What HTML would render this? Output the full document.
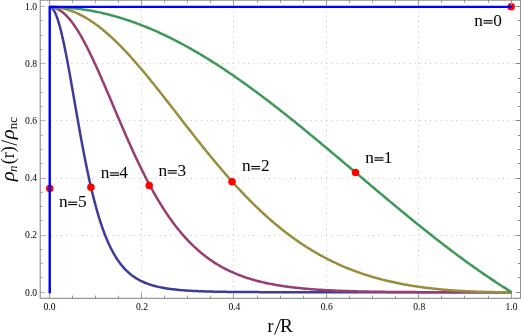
<!DOCTYPE html>
<html><head><meta charset="utf-8"><title>plot</title>
<style>
html,body{margin:0;padding:0;background:#fff;}
body{width:521px;height:336px;overflow:hidden;}
svg{display:block;font-family:"Liberation Serif",serif;will-change:transform;}
</style></head><body>
<svg width="521" height="336" viewBox="0 0 521 336">
<rect width="521" height="336" fill="#fff"/>
<g stroke="#c4c4c4" stroke-width="1" stroke-dasharray="1 4.2" fill="none"><line x1="141.5" y1="0.15" x2="141.5" y2="298.3"/><line x1="40.2" y1="235.5" x2="520.65" y2="235.5"/><line x1="233.5" y1="0.15" x2="233.5" y2="298.3"/><line x1="40.2" y1="178.5" x2="520.65" y2="178.5"/><line x1="326.5" y1="0.15" x2="326.5" y2="298.3"/><line x1="40.2" y1="120.5" x2="520.65" y2="120.5"/><line x1="418.5" y1="0.15" x2="418.5" y2="298.3"/><line x1="40.2" y1="63.5" x2="520.65" y2="63.5"/></g>
<path d="M49.70,7.00 L50.86,7.27 L52.01,8.06 L53.16,9.38 L54.32,11.22 L55.48,13.56 L56.63,16.38 L57.79,19.66 L58.94,23.38 L60.10,27.52 L61.25,32.05 L62.41,36.93 L63.56,42.13 L64.72,47.62 L65.87,53.38 L67.02,59.36 L68.18,65.53 L69.33,71.85 L70.49,78.31 L71.64,84.86 L72.80,91.47 L73.95,98.12 L75.11,104.78 L76.27,111.43 L77.42,118.03 L78.57,124.58 L79.73,131.04 L80.88,137.41 L82.04,143.67 L83.19,149.80 L84.35,155.80 L85.50,161.64 L86.66,167.34 L87.81,172.86 L88.97,178.22 L90.12,183.41 L91.28,188.42 L92.44,193.26 L93.59,197.92 L94.75,202.41 L95.90,206.72 L97.06,210.85 L98.21,214.82 L99.36,218.62 L100.52,222.25 L101.67,225.72 L102.83,229.04 L103.98,232.21 L105.14,235.23 L106.29,238.11 L107.45,240.85 L108.60,243.46 L109.76,245.94 L110.91,248.31 L112.07,250.55 L113.22,252.68 L114.38,254.71 L115.53,256.63 L116.69,258.46 L117.84,260.19 L119.00,261.83 L120.16,263.39 L121.31,264.87 L122.47,266.27 L123.62,267.60 L124.78,268.86 L125.93,270.05 L127.09,271.18 L128.24,272.26 L129.40,273.27 L130.55,274.23 L131.70,275.14 L132.86,276.01 L134.01,276.83 L135.17,277.60 L136.32,278.34 L137.48,279.03 L138.63,279.69 L139.79,280.32 L140.94,280.91 L142.10,281.47 L143.25,282.00 L144.41,282.51 L145.56,282.99 L146.72,283.44 L147.88,283.87 L149.03,284.28 L150.19,284.66 L151.34,285.03 L152.50,285.38 L153.65,285.71 L154.81,286.02 L155.96,286.32 L157.12,286.60 L158.27,286.87 L159.43,287.12 L160.58,287.37 L161.73,287.60 L162.89,287.81 L164.04,288.02 L165.20,288.22 L166.35,288.40 L167.51,288.58 L168.66,288.75 L169.82,288.91 L170.97,289.07 L172.13,289.21 L173.28,289.35 L174.44,289.48 L175.59,289.61 L176.75,289.73 L177.91,289.84 L179.06,289.95 L180.22,290.05 L181.37,290.15 L182.53,290.24 L183.68,290.33 L184.83,290.42 L185.99,290.50 L187.14,290.57 L188.30,290.65 L189.45,290.72 L190.61,290.78 L191.76,290.85 L192.92,290.91 L194.07,290.97 L195.23,291.02 L196.38,291.07 L197.54,291.12 L198.69,291.17 L199.85,291.22 L201.00,291.26 L202.16,291.30 L203.31,291.34 L204.47,291.38 L205.62,291.42 L206.78,291.45 L207.94,291.49 L209.09,291.52 L210.25,291.55 L211.40,291.58 L212.55,291.61 L213.71,291.63 L214.86,291.66 L216.02,291.68 L217.17,291.71 L218.33,291.73 L219.48,291.75 L220.64,291.77 L221.79,291.79 L222.95,291.81 L224.10,291.83 L225.26,291.84 L226.41,291.86 L227.57,291.88 L228.72,291.89 L229.88,291.91 L231.03,291.92 L232.19,291.93 L233.34,291.95 L234.50,291.96 L235.66,291.97 L236.81,291.98 L237.97,291.99 L239.12,292.00 L240.28,292.01 L241.43,292.02 L242.58,292.03 L243.74,292.04 L244.89,292.05 L246.05,292.06 L247.20,292.06 L248.36,292.07 L249.51,292.08 L250.67,292.08 L251.82,292.09 L252.98,292.10 L254.13,292.10 L255.29,292.11 L256.45,292.11 L257.60,292.12 L258.76,292.12 L259.91,292.13 L261.07,292.13 L262.22,292.14 L263.38,292.14 L264.53,292.15 L265.69,292.15 L266.84,292.16 L268.00,292.16 L269.15,292.16 L270.31,292.17 L271.46,292.17 L272.62,292.17 L273.77,292.18 L274.93,292.18 L276.08,292.18 L277.24,292.18 L278.39,292.19 L279.55,292.19 L280.70,292.19 L281.86,292.19 L283.01,292.20 L284.17,292.20 L285.32,292.20 L286.48,292.20 L287.63,292.20 L288.79,292.21 L289.94,292.21 L291.10,292.21 L292.25,292.21 L293.41,292.21 L294.56,292.21 L295.72,292.21 L296.87,292.22 L298.03,292.22 L299.18,292.22 L300.34,292.22 L301.49,292.22 L302.65,292.22 L303.80,292.22 L304.96,292.22 L306.11,292.23 L307.27,292.23 L308.42,292.23 L309.58,292.23 L310.73,292.23 L311.89,292.23 L313.04,292.23 L314.20,292.23 L315.35,292.23 L316.51,292.23 L317.66,292.23 L318.82,292.23 L319.97,292.24 L321.13,292.24 L322.28,292.24 L323.44,292.24 L324.59,292.24 L325.75,292.24 L326.90,292.24 L328.06,292.24 L329.21,292.24 L330.37,292.24 L331.52,292.24 L332.68,292.24 L333.83,292.24 L334.99,292.24 L336.14,292.24 L337.30,292.24 L338.45,292.24 L339.61,292.24 L340.76,292.24 L341.92,292.24 L343.07,292.24 L344.23,292.24 L345.38,292.24 L346.54,292.24 L347.69,292.24 L348.85,292.24 L350.00,292.25 L351.16,292.25 L352.31,292.25 L353.47,292.25 L354.62,292.25 L355.78,292.25 L356.93,292.25 L358.09,292.25 L359.24,292.25 L360.40,292.25 L361.55,292.25 L362.71,292.25 L363.86,292.25 L365.02,292.25 L366.17,292.25 L367.33,292.25 L368.48,292.25 L369.64,292.25 L370.79,292.25 L371.95,292.25 L373.10,292.25 L374.26,292.25 L375.41,292.25 L376.57,292.25 L377.72,292.25 L378.88,292.25 L380.03,292.25 L381.19,292.25 L382.34,292.25 L383.50,292.25 L384.65,292.25 L385.81,292.25 L386.96,292.25 L388.12,292.25 L389.27,292.25 L390.43,292.25 L391.58,292.25 L392.74,292.25 L393.89,292.25 L395.05,292.25 L396.20,292.25 L397.36,292.25 L398.51,292.25 L399.67,292.25 L400.82,292.25 L401.98,292.25 L403.13,292.25 L404.29,292.25 L405.44,292.25 L406.60,292.25 L407.75,292.25 L408.91,292.25 L410.06,292.25 L411.22,292.25 L412.37,292.25 L413.53,292.25 L414.68,292.25 L415.84,292.25 L416.99,292.25 L418.15,292.25 L419.30,292.25 L420.46,292.25 L421.61,292.25 L422.77,292.25 L423.92,292.25 L425.08,292.25 L426.23,292.25 L427.39,292.25 L428.54,292.25 L429.70,292.25 L430.85,292.25 L432.01,292.25 L433.16,292.25 L434.32,292.25 L435.47,292.25 L436.63,292.25 L437.78,292.25 L438.94,292.25 L440.09,292.25 L441.25,292.25 L442.40,292.25 L443.56,292.25 L444.71,292.25 L445.87,292.25 L447.02,292.25 L448.18,292.25 L449.33,292.25 L450.49,292.25 L451.64,292.25 L452.80,292.25 L453.95,292.25 L455.11,292.25 L456.26,292.25 L457.42,292.25 L458.57,292.25 L459.73,292.25 L460.88,292.25 L462.04,292.25 L463.19,292.25 L464.35,292.25 L465.50,292.25 L466.66,292.25 L467.81,292.25 L468.97,292.25 L470.12,292.25 L471.28,292.25 L472.43,292.25 L473.59,292.25 L474.74,292.25 L475.90,292.25 L477.05,292.25 L478.21,292.25 L479.36,292.25 L480.52,292.25 L481.67,292.25 L482.83,292.25 L483.98,292.25 L485.14,292.25 L486.29,292.25 L487.45,292.25 L488.60,292.25 L489.76,292.25 L490.91,292.25 L492.07,292.25 L493.22,292.25 L494.38,292.25 L495.53,292.25 L496.69,292.25 L497.84,292.25 L499.00,292.25 L500.15,292.25 L501.31,292.25 L502.46,292.25 L503.62,292.25 L504.77,292.25 L505.93,292.25 L507.08,292.25 L508.24,292.25 L509.39,292.25 L510.55,292.25 L511.70,292.25" fill="none" stroke="#3d3d99" stroke-width="2.5" stroke-linejoin="round"/><path d="M49.70,7.00 L50.86,7.04 L52.01,7.17 L53.16,7.38 L54.32,7.68 L55.48,8.06 L56.63,8.52 L57.79,9.07 L58.94,9.70 L60.10,10.41 L61.25,11.20 L62.41,12.07 L63.56,13.02 L64.72,14.05 L65.87,15.16 L67.02,16.34 L68.18,17.60 L69.33,18.93 L70.49,20.33 L71.64,21.80 L72.80,23.34 L73.95,24.95 L75.11,26.62 L76.27,28.36 L77.42,30.16 L78.57,32.01 L79.73,33.93 L80.88,35.90 L82.04,37.93 L83.19,40.01 L84.35,42.14 L85.50,44.32 L86.66,46.54 L87.81,48.81 L88.97,51.12 L90.12,53.47 L91.28,55.86 L92.44,58.29 L93.59,60.74 L94.75,63.23 L95.90,65.75 L97.06,68.30 L98.21,70.88 L99.36,73.47 L100.52,76.09 L101.67,78.73 L102.83,81.38 L103.98,84.05 L105.14,86.74 L106.29,89.44 L107.45,92.14 L108.60,94.85 L109.76,97.58 L110.91,100.30 L112.07,103.03 L113.22,105.76 L114.38,108.48 L115.53,111.21 L116.69,113.93 L117.84,116.65 L119.00,119.36 L120.16,122.06 L121.31,124.75 L122.47,127.44 L123.62,130.11 L124.78,132.76 L125.93,135.41 L127.09,138.03 L128.24,140.65 L129.40,143.24 L130.55,145.81 L131.70,148.37 L132.86,150.90 L134.01,153.42 L135.17,155.91 L136.32,158.38 L137.48,160.82 L138.63,163.24 L139.79,165.64 L140.94,168.01 L142.10,170.36 L143.25,172.67 L144.41,174.97 L145.56,177.23 L146.72,179.47 L147.88,181.68 L149.03,183.86 L150.19,186.01 L151.34,188.13 L152.50,190.23 L153.65,192.29 L154.81,194.33 L155.96,196.34 L157.12,198.31 L158.27,200.26 L159.43,202.18 L160.58,204.07 L161.73,205.93 L162.89,207.75 L164.04,209.55 L165.20,211.32 L166.35,213.07 L167.51,214.78 L168.66,216.46 L169.82,218.11 L170.97,219.74 L172.13,221.33 L173.28,222.90 L174.44,224.44 L175.59,225.95 L176.75,227.44 L177.91,228.90 L179.06,230.32 L180.22,231.73 L181.37,233.10 L182.53,234.45 L183.68,235.78 L184.83,237.07 L185.99,238.35 L187.14,239.59 L188.30,240.82 L189.45,242.01 L190.61,243.19 L191.76,244.34 L192.92,245.46 L194.07,246.57 L195.23,247.65 L196.38,248.70 L197.54,249.74 L198.69,250.75 L199.85,251.75 L201.00,252.72 L202.16,253.67 L203.31,254.60 L204.47,255.51 L205.62,256.40 L206.78,257.27 L207.94,258.12 L209.09,258.95 L210.25,259.77 L211.40,260.56 L212.55,261.34 L213.71,262.10 L214.86,262.85 L216.02,263.57 L217.17,264.28 L218.33,264.98 L219.48,265.66 L220.64,266.32 L221.79,266.97 L222.95,267.60 L224.10,268.22 L225.26,268.82 L226.41,269.41 L227.57,269.99 L228.72,270.55 L229.88,271.10 L231.03,271.64 L232.19,272.16 L233.34,272.68 L234.50,273.17 L235.66,273.66 L236.81,274.14 L237.97,274.60 L239.12,275.06 L240.28,275.50 L241.43,275.93 L242.58,276.35 L243.74,276.76 L244.89,277.16 L246.05,277.56 L247.20,277.94 L248.36,278.31 L249.51,278.67 L250.67,279.03 L251.82,279.38 L252.98,279.71 L254.13,280.04 L255.29,280.36 L256.45,280.68 L257.60,280.98 L258.76,281.28 L259.91,281.57 L261.07,281.85 L262.22,282.13 L263.38,282.40 L264.53,282.66 L265.69,282.92 L266.84,283.17 L268.00,283.41 L269.15,283.65 L270.31,283.88 L271.46,284.10 L272.62,284.32 L273.77,284.54 L274.93,284.75 L276.08,284.95 L277.24,285.15 L278.39,285.34 L279.55,285.53 L280.70,285.71 L281.86,285.89 L283.01,286.07 L284.17,286.24 L285.32,286.40 L286.48,286.56 L287.63,286.72 L288.79,286.87 L289.94,287.02 L291.10,287.17 L292.25,287.31 L293.41,287.45 L294.56,287.58 L295.72,287.71 L296.87,287.84 L298.03,287.96 L299.18,288.08 L300.34,288.20 L301.49,288.32 L302.65,288.43 L303.80,288.54 L304.96,288.64 L306.11,288.74 L307.27,288.85 L308.42,288.94 L309.58,289.04 L310.73,289.13 L311.89,289.22 L313.04,289.31 L314.20,289.39 L315.35,289.48 L316.51,289.56 L317.66,289.64 L318.82,289.71 L319.97,289.79 L321.13,289.86 L322.28,289.93 L323.44,290.00 L324.59,290.07 L325.75,290.13 L326.90,290.19 L328.06,290.26 L329.21,290.32 L330.37,290.37 L331.52,290.43 L332.68,290.49 L333.83,290.54 L334.99,290.59 L336.14,290.64 L337.30,290.69 L338.45,290.74 L339.61,290.79 L340.76,290.83 L341.92,290.88 L343.07,290.92 L344.23,290.96 L345.38,291.00 L346.54,291.04 L347.69,291.08 L348.85,291.12 L350.00,291.15 L351.16,291.19 L352.31,291.22 L353.47,291.25 L354.62,291.29 L355.78,291.32 L356.93,291.35 L358.09,291.38 L359.24,291.41 L360.40,291.43 L361.55,291.46 L362.71,291.49 L363.86,291.51 L365.02,291.54 L366.17,291.56 L367.33,291.58 L368.48,291.61 L369.64,291.63 L370.79,291.65 L371.95,291.67 L373.10,291.69 L374.26,291.71 L375.41,291.73 L376.57,291.75 L377.72,291.77 L378.88,291.78 L380.03,291.80 L381.19,291.82 L382.34,291.83 L383.50,291.85 L384.65,291.86 L385.81,291.88 L386.96,291.89 L388.12,291.90 L389.27,291.92 L390.43,291.93 L391.58,291.94 L392.74,291.95 L393.89,291.96 L395.05,291.98 L396.20,291.99 L397.36,292.00 L398.51,292.01 L399.67,292.02 L400.82,292.03 L401.98,292.03 L403.13,292.04 L404.29,292.05 L405.44,292.06 L406.60,292.07 L407.75,292.08 L408.91,292.08 L410.06,292.09 L411.22,292.10 L412.37,292.10 L413.53,292.11 L414.68,292.12 L415.84,292.12 L416.99,292.13 L418.15,292.13 L419.30,292.14 L420.46,292.14 L421.61,292.15 L422.77,292.15 L423.92,292.16 L425.08,292.16 L426.23,292.17 L427.39,292.17 L428.54,292.17 L429.70,292.18 L430.85,292.18 L432.01,292.19 L433.16,292.19 L434.32,292.19 L435.47,292.19 L436.63,292.20 L437.78,292.20 L438.94,292.20 L440.09,292.21 L441.25,292.21 L442.40,292.21 L443.56,292.21 L444.71,292.22 L445.87,292.22 L447.02,292.22 L448.18,292.22 L449.33,292.22 L450.49,292.22 L451.64,292.23 L452.80,292.23 L453.95,292.23 L455.11,292.23 L456.26,292.23 L457.42,292.23 L458.57,292.23 L459.73,292.24 L460.88,292.24 L462.04,292.24 L463.19,292.24 L464.35,292.24 L465.50,292.24 L466.66,292.24 L467.81,292.24 L468.97,292.24 L470.12,292.24 L471.28,292.24 L472.43,292.24 L473.59,292.24 L474.74,292.25 L475.90,292.25 L477.05,292.25 L478.21,292.25 L479.36,292.25 L480.52,292.25 L481.67,292.25 L482.83,292.25 L483.98,292.25 L485.14,292.25 L486.29,292.25 L487.45,292.25 L488.60,292.25 L489.76,292.25 L490.91,292.25 L492.07,292.25 L493.22,292.25 L494.38,292.25 L495.53,292.25 L496.69,292.25 L497.84,292.25 L499.00,292.25 L500.15,292.25 L501.31,292.25 L502.46,292.25 L503.62,292.25 L504.77,292.25 L505.93,292.25 L507.08,292.25 L508.24,292.25 L509.39,292.25 L510.55,292.25 L511.70,292.25" fill="none" stroke="#993d70" stroke-width="2.5" stroke-linejoin="round"/><path d="M49.70,7.00 L50.86,7.01 L52.01,7.05 L53.16,7.10 L54.32,7.18 L55.48,7.28 L56.63,7.41 L57.79,7.55 L58.94,7.72 L60.10,7.91 L61.25,8.12 L62.41,8.36 L63.56,8.62 L64.72,8.90 L65.87,9.20 L67.02,9.52 L68.18,9.87 L69.33,10.23 L70.49,10.62 L71.64,11.03 L72.80,11.47 L73.95,11.92 L75.11,12.39 L76.27,12.89 L77.42,13.41 L78.57,13.94 L79.73,14.50 L80.88,15.08 L82.04,15.68 L83.19,16.30 L84.35,16.94 L85.50,17.60 L86.66,18.28 L87.81,18.98 L88.97,19.70 L90.12,20.43 L91.28,21.19 L92.44,21.97 L93.59,22.76 L94.75,23.57 L95.90,24.41 L97.06,25.26 L98.21,26.12 L99.36,27.01 L100.52,27.91 L101.67,28.83 L102.83,29.77 L103.98,30.72 L105.14,31.69 L106.29,32.68 L107.45,33.68 L108.60,34.70 L109.76,35.74 L110.91,36.79 L112.07,37.85 L113.22,38.93 L114.38,40.03 L115.53,41.13 L116.69,42.26 L117.84,43.39 L119.00,44.55 L120.16,45.71 L121.31,46.89 L122.47,48.08 L123.62,49.28 L124.78,50.50 L125.93,51.72 L127.09,52.96 L128.24,54.21 L129.40,55.47 L130.55,56.75 L131.70,58.03 L132.86,59.32 L134.01,60.63 L135.17,61.94 L136.32,63.26 L137.48,64.60 L138.63,65.94 L139.79,67.29 L140.94,68.65 L142.10,70.01 L143.25,71.39 L144.41,72.77 L145.56,74.16 L146.72,75.56 L147.88,76.96 L149.03,78.38 L150.19,79.79 L151.34,81.22 L152.50,82.64 L153.65,84.08 L154.81,85.52 L155.96,86.96 L157.12,88.41 L158.27,89.87 L159.43,91.32 L160.58,92.79 L161.73,94.25 L162.89,95.72 L164.04,97.19 L165.20,98.67 L166.35,100.14 L167.51,101.62 L168.66,103.11 L169.82,104.59 L170.97,106.08 L172.13,107.56 L173.28,109.05 L174.44,110.54 L175.59,112.03 L176.75,113.52 L177.91,115.01 L179.06,116.50 L180.22,117.99 L181.37,119.48 L182.53,120.97 L183.68,122.45 L184.83,123.94 L185.99,125.43 L187.14,126.91 L188.30,128.39 L189.45,129.87 L190.61,131.35 L191.76,132.83 L192.92,134.30 L194.07,135.77 L195.23,137.24 L196.38,138.70 L197.54,140.16 L198.69,141.62 L199.85,143.07 L201.00,144.52 L202.16,145.97 L203.31,147.41 L204.47,148.85 L205.62,150.28 L206.78,151.71 L207.94,153.13 L209.09,154.55 L210.25,155.96 L211.40,157.37 L212.55,158.77 L213.71,160.17 L214.86,161.56 L216.02,162.94 L217.17,164.32 L218.33,165.70 L219.48,167.06 L220.64,168.42 L221.79,169.78 L222.95,171.13 L224.10,172.47 L225.26,173.80 L226.41,175.13 L227.57,176.45 L228.72,177.76 L229.88,179.07 L231.03,180.37 L232.19,181.66 L233.34,182.94 L234.50,184.22 L235.66,185.49 L236.81,186.75 L237.97,188.00 L239.12,189.25 L240.28,190.48 L241.43,191.71 L242.58,192.93 L243.74,194.15 L244.89,195.35 L246.05,196.55 L247.20,197.73 L248.36,198.91 L249.51,200.09 L250.67,201.25 L251.82,202.40 L252.98,203.55 L254.13,204.69 L255.29,205.81 L256.45,206.93 L257.60,208.04 L258.76,209.15 L259.91,210.24 L261.07,211.33 L262.22,212.40 L263.38,213.47 L264.53,214.53 L265.69,215.58 L266.84,216.62 L268.00,217.65 L269.15,218.67 L270.31,219.69 L271.46,220.69 L272.62,221.69 L273.77,222.67 L274.93,223.65 L276.08,224.62 L277.24,225.58 L278.39,226.53 L279.55,227.48 L280.70,228.41 L281.86,229.33 L283.01,230.25 L284.17,231.16 L285.32,232.05 L286.48,232.94 L287.63,233.82 L288.79,234.70 L289.94,235.56 L291.10,236.41 L292.25,237.26 L293.41,238.09 L294.56,238.92 L295.72,239.74 L296.87,240.55 L298.03,241.35 L299.18,242.15 L300.34,242.93 L301.49,243.71 L302.65,244.48 L303.80,245.23 L304.96,245.99 L306.11,246.73 L307.27,247.46 L308.42,248.19 L309.58,248.91 L310.73,249.62 L311.89,250.32 L313.04,251.01 L314.20,251.70 L315.35,252.37 L316.51,253.04 L317.66,253.70 L318.82,254.36 L319.97,255.00 L321.13,255.64 L322.28,256.27 L323.44,256.89 L324.59,257.50 L325.75,258.11 L326.90,258.71 L328.06,259.30 L329.21,259.89 L330.37,260.46 L331.52,261.03 L332.68,261.59 L333.83,262.15 L334.99,262.70 L336.14,263.24 L337.30,263.77 L338.45,264.30 L339.61,264.82 L340.76,265.33 L341.92,265.83 L343.07,266.33 L344.23,266.82 L345.38,267.31 L346.54,267.79 L347.69,268.26 L348.85,268.72 L350.00,269.18 L351.16,269.64 L352.31,270.08 L353.47,270.52 L354.62,270.95 L355.78,271.38 L356.93,271.80 L358.09,272.22 L359.24,272.63 L360.40,273.03 L361.55,273.43 L362.71,273.82 L363.86,274.20 L365.02,274.58 L366.17,274.95 L367.33,275.32 L368.48,275.68 L369.64,276.04 L370.79,276.39 L371.95,276.74 L373.10,277.08 L374.26,277.41 L375.41,277.74 L376.57,278.07 L377.72,278.39 L378.88,278.70 L380.03,279.01 L381.19,279.31 L382.34,279.61 L383.50,279.91 L384.65,280.20 L385.81,280.48 L386.96,280.76 L388.12,281.04 L389.27,281.31 L390.43,281.57 L391.58,281.83 L392.74,282.09 L393.89,282.34 L395.05,282.59 L396.20,282.83 L397.36,283.07 L398.51,283.31 L399.67,283.54 L400.82,283.77 L401.98,283.99 L403.13,284.21 L404.29,284.42 L405.44,284.63 L406.60,284.84 L407.75,285.04 L408.91,285.24 L410.06,285.44 L411.22,285.63 L412.37,285.82 L413.53,286.00 L414.68,286.18 L415.84,286.36 L416.99,286.53 L418.15,286.70 L419.30,286.87 L420.46,287.03 L421.61,287.19 L422.77,287.35 L423.92,287.50 L425.08,287.65 L426.23,287.80 L427.39,287.94 L428.54,288.08 L429.70,288.22 L430.85,288.35 L432.01,288.48 L433.16,288.61 L434.32,288.74 L435.47,288.86 L436.63,288.98 L437.78,289.10 L438.94,289.21 L440.09,289.33 L441.25,289.44 L442.40,289.54 L443.56,289.65 L444.71,289.75 L445.87,289.85 L447.02,289.94 L448.18,290.04 L449.33,290.13 L450.49,290.22 L451.64,290.30 L452.80,290.39 L453.95,290.47 L455.11,290.55 L456.26,290.63 L457.42,290.70 L458.57,290.78 L459.73,290.85 L460.88,290.92 L462.04,290.98 L463.19,291.05 L464.35,291.11 L465.50,291.17 L466.66,291.23 L467.81,291.29 L468.97,291.34 L470.12,291.40 L471.28,291.45 L472.43,291.50 L473.59,291.54 L474.74,291.59 L475.90,291.63 L477.05,291.68 L478.21,291.72 L479.36,291.75 L480.52,291.79 L481.67,291.83 L482.83,291.86 L483.98,291.89 L485.14,291.92 L486.29,291.95 L487.45,291.98 L488.60,292.01 L489.76,292.03 L490.91,292.06 L492.07,292.08 L493.22,292.10 L494.38,292.12 L495.53,292.13 L496.69,292.15 L497.84,292.17 L499.00,292.18 L500.15,292.19 L501.31,292.20 L502.46,292.21 L503.62,292.22 L504.77,292.23 L505.93,292.24 L507.08,292.24 L508.24,292.25 L509.39,292.25 L510.55,292.25 L511.70,292.25" fill="none" stroke="#998c3d" stroke-width="2.5" stroke-linejoin="round"/><path d="M49.70,7.00 L50.86,7.00 L52.01,7.01 L53.16,7.03 L54.32,7.05 L55.48,7.07 L56.63,7.11 L57.79,7.14 L58.94,7.19 L60.10,7.24 L61.25,7.29 L62.41,7.35 L63.56,7.42 L64.72,7.50 L65.87,7.57 L67.02,7.66 L68.18,7.75 L69.33,7.85 L70.49,7.95 L71.64,8.06 L72.80,8.17 L73.95,8.29 L75.11,8.42 L76.27,8.55 L77.42,8.69 L78.57,8.83 L79.73,8.98 L80.88,9.13 L82.04,9.29 L83.19,9.46 L84.35,9.63 L85.50,9.81 L86.66,9.99 L87.81,10.18 L88.97,10.38 L90.12,10.58 L91.28,10.79 L92.44,11.00 L93.59,11.22 L94.75,11.44 L95.90,11.67 L97.06,11.90 L98.21,12.15 L99.36,12.39 L100.52,12.64 L101.67,12.90 L102.83,13.17 L103.98,13.43 L105.14,13.71 L106.29,13.99 L107.45,14.28 L108.60,14.57 L109.76,14.86 L110.91,15.17 L112.07,15.47 L113.22,15.79 L114.38,16.11 L115.53,16.43 L116.69,16.76 L117.84,17.10 L119.00,17.44 L120.16,17.79 L121.31,18.14 L122.47,18.50 L123.62,18.86 L124.78,19.23 L125.93,19.60 L127.09,19.98 L128.24,20.37 L129.40,20.76 L130.55,21.15 L131.70,21.56 L132.86,21.96 L134.01,22.37 L135.17,22.79 L136.32,23.21 L137.48,23.64 L138.63,24.07 L139.79,24.51 L140.94,24.95 L142.10,25.40 L143.25,25.86 L144.41,26.31 L145.56,26.78 L146.72,27.25 L147.88,27.72 L149.03,28.20 L150.19,28.68 L151.34,29.17 L152.50,29.67 L153.65,30.17 L154.81,30.67 L155.96,31.18 L157.12,31.70 L158.27,32.22 L159.43,32.74 L160.58,33.27 L161.73,33.80 L162.89,34.34 L164.04,34.89 L165.20,35.43 L166.35,35.99 L167.51,36.55 L168.66,37.11 L169.82,37.68 L170.97,38.25 L172.13,38.83 L173.28,39.41 L174.44,40.00 L175.59,40.59 L176.75,41.18 L177.91,41.78 L179.06,42.39 L180.22,43.00 L181.37,43.61 L182.53,44.23 L183.68,44.86 L184.83,45.48 L185.99,46.12 L187.14,46.75 L188.30,47.39 L189.45,48.04 L190.61,48.69 L191.76,49.34 L192.92,50.00 L194.07,50.66 L195.23,51.33 L196.38,52.00 L197.54,52.68 L198.69,53.36 L199.85,54.04 L201.00,54.73 L202.16,55.42 L203.31,56.12 L204.47,56.82 L205.62,57.52 L206.78,58.23 L207.94,58.94 L209.09,59.66 L210.25,60.38 L211.40,61.10 L212.55,61.83 L213.71,62.56 L214.86,63.30 L216.02,64.04 L217.17,64.78 L218.33,65.53 L219.48,66.28 L220.64,67.03 L221.79,67.79 L222.95,68.55 L224.10,69.32 L225.26,70.09 L226.41,70.86 L227.57,71.64 L228.72,72.42 L229.88,73.20 L231.03,73.99 L232.19,74.78 L233.34,75.57 L234.50,76.37 L235.66,77.17 L236.81,77.97 L237.97,78.78 L239.12,79.59 L240.28,80.40 L241.43,81.21 L242.58,82.03 L243.74,82.86 L244.89,83.68 L246.05,84.51 L247.20,85.34 L248.36,86.18 L249.51,87.02 L250.67,87.86 L251.82,88.70 L252.98,89.55 L254.13,90.40 L255.29,91.25 L256.45,92.10 L257.60,92.96 L258.76,93.82 L259.91,94.69 L261.07,95.55 L262.22,96.42 L263.38,97.29 L264.53,98.16 L265.69,99.04 L266.84,99.92 L268.00,100.80 L269.15,101.69 L270.31,102.57 L271.46,103.46 L272.62,104.35 L273.77,105.25 L274.93,106.14 L276.08,107.04 L277.24,107.94 L278.39,108.84 L279.55,109.75 L280.70,110.65 L281.86,111.56 L283.01,112.47 L284.17,113.39 L285.32,114.30 L286.48,115.22 L287.63,116.14 L288.79,117.06 L289.94,117.98 L291.10,118.91 L292.25,119.83 L293.41,120.76 L294.56,121.69 L295.72,122.63 L296.87,123.56 L298.03,124.49 L299.18,125.43 L300.34,126.37 L301.49,127.31 L302.65,128.25 L303.80,129.20 L304.96,130.14 L306.11,131.09 L307.27,132.03 L308.42,132.98 L309.58,133.93 L310.73,134.88 L311.89,135.84 L313.04,136.79 L314.20,137.75 L315.35,138.70 L316.51,139.66 L317.66,140.62 L318.82,141.58 L319.97,142.54 L321.13,143.50 L322.28,144.47 L323.44,145.43 L324.59,146.39 L325.75,147.36 L326.90,148.33 L328.06,149.29 L329.21,150.26 L330.37,151.23 L331.52,152.20 L332.68,153.17 L333.83,154.14 L334.99,155.11 L336.14,156.09 L337.30,157.06 L338.45,158.03 L339.61,159.01 L340.76,159.98 L341.92,160.95 L343.07,161.93 L344.23,162.90 L345.38,163.88 L346.54,164.86 L347.69,165.83 L348.85,166.81 L350.00,167.79 L351.16,168.76 L352.31,169.74 L353.47,170.72 L354.62,171.69 L355.78,172.67 L356.93,173.65 L358.09,174.63 L359.24,175.60 L360.40,176.58 L361.55,177.56 L362.71,178.53 L363.86,179.51 L365.02,180.49 L366.17,181.46 L367.33,182.44 L368.48,183.41 L369.64,184.39 L370.79,185.36 L371.95,186.34 L373.10,187.31 L374.26,188.28 L375.41,189.26 L376.57,190.23 L377.72,191.20 L378.88,192.17 L380.03,193.14 L381.19,194.11 L382.34,195.08 L383.50,196.05 L384.65,197.02 L385.81,197.98 L386.96,198.95 L388.12,199.92 L389.27,200.88 L390.43,201.84 L391.58,202.81 L392.74,203.77 L393.89,204.73 L395.05,205.69 L396.20,206.64 L397.36,207.60 L398.51,208.56 L399.67,209.51 L400.82,210.47 L401.98,211.42 L403.13,212.37 L404.29,213.32 L405.44,214.27 L406.60,215.22 L407.75,216.16 L408.91,217.11 L410.06,218.05 L411.22,218.99 L412.37,219.93 L413.53,220.87 L414.68,221.81 L415.84,222.74 L416.99,223.68 L418.15,224.61 L419.30,225.54 L420.46,226.47 L421.61,227.39 L422.77,228.32 L423.92,229.24 L425.08,230.16 L426.23,231.08 L427.39,232.00 L428.54,232.92 L429.70,233.83 L430.85,234.74 L432.01,235.66 L433.16,236.56 L434.32,237.47 L435.47,238.37 L436.63,239.28 L437.78,240.18 L438.94,241.07 L440.09,241.97 L441.25,242.86 L442.40,243.75 L443.56,244.64 L444.71,245.53 L445.87,246.41 L447.02,247.30 L448.18,248.18 L449.33,249.05 L450.49,249.93 L451.64,250.80 L452.80,251.67 L453.95,252.54 L455.11,253.40 L456.26,254.27 L457.42,255.13 L458.57,255.98 L459.73,256.84 L460.88,257.69 L462.04,258.54 L463.19,259.39 L464.35,260.23 L465.50,261.07 L466.66,261.91 L467.81,262.75 L468.97,263.58 L470.12,264.41 L471.28,265.24 L472.43,266.07 L473.59,266.89 L474.74,267.71 L475.90,268.52 L477.05,269.34 L478.21,270.15 L479.36,270.95 L480.52,271.76 L481.67,272.56 L482.83,273.36 L483.98,274.15 L485.14,274.94 L486.29,275.73 L487.45,276.52 L488.60,277.30 L489.76,278.08 L490.91,278.85 L492.07,279.63 L493.22,280.40 L494.38,281.16 L495.53,281.92 L496.69,282.68 L497.84,283.44 L499.00,284.19 L500.15,284.94 L501.31,285.69 L502.46,286.43 L503.62,287.17 L504.77,287.91 L505.93,288.64 L507.08,289.37 L508.24,290.09 L509.39,290.82 L510.55,291.54 L511.70,292.25" fill="none" stroke="#3d9957" stroke-width="2.5" stroke-linejoin="round"/>
<g fill="#ff0000"><circle cx="511.2" cy="6.7" r="3.75"/><circle cx="355.5" cy="172.4" r="3.75"/><circle cx="232.05" cy="181.65" r="3.75"/><circle cx="149.2" cy="185.5" r="3.75"/><circle cx="90.9" cy="187.3" r="3.75"/><circle cx="49.8" cy="188.6" r="3.75"/></g>
<g stroke="#0000ff" stroke-width="2.4" fill="none">
<path d="M49.72,293.5 L49.72,6.9 L512.2,6.9" stroke-linejoin="miter"/>
</g>
<g stroke-width="1" fill="none"><g stroke="#9a9a9a"><line x1="49.5" y1="298.3" x2="49.5" y2="293.5"/><line x1="49.5" y1="0.15" x2="49.5" y2="4.95"/><line x1="72.5" y1="298.3" x2="72.5" y2="295.6"/><line x1="72.5" y1="0.15" x2="72.5" y2="2.85"/><line x1="95.5" y1="298.3" x2="95.5" y2="295.6"/><line x1="95.5" y1="0.15" x2="95.5" y2="2.85"/><line x1="118.5" y1="298.3" x2="118.5" y2="295.6"/><line x1="118.5" y1="0.15" x2="118.5" y2="2.85"/><line x1="141.5" y1="298.3" x2="141.5" y2="293.5"/><line x1="141.5" y1="0.15" x2="141.5" y2="4.95"/><line x1="164.5" y1="298.3" x2="164.5" y2="295.6"/><line x1="164.5" y1="0.15" x2="164.5" y2="2.85"/><line x1="187.5" y1="298.3" x2="187.5" y2="295.6"/><line x1="187.5" y1="0.15" x2="187.5" y2="2.85"/><line x1="210.5" y1="298.3" x2="210.5" y2="295.6"/><line x1="210.5" y1="0.15" x2="210.5" y2="2.85"/><line x1="233.5" y1="298.3" x2="233.5" y2="293.5"/><line x1="233.5" y1="0.15" x2="233.5" y2="4.95"/><line x1="257.5" y1="298.3" x2="257.5" y2="295.6"/><line x1="257.5" y1="0.15" x2="257.5" y2="2.85"/><line x1="280.5" y1="298.3" x2="280.5" y2="295.6"/><line x1="280.5" y1="0.15" x2="280.5" y2="2.85"/><line x1="303.5" y1="298.3" x2="303.5" y2="295.6"/><line x1="303.5" y1="0.15" x2="303.5" y2="2.85"/><line x1="326.5" y1="298.3" x2="326.5" y2="293.5"/><line x1="326.5" y1="0.15" x2="326.5" y2="4.95"/><line x1="349.5" y1="298.3" x2="349.5" y2="295.6"/><line x1="349.5" y1="0.15" x2="349.5" y2="2.85"/><line x1="372.5" y1="298.3" x2="372.5" y2="295.6"/><line x1="372.5" y1="0.15" x2="372.5" y2="2.85"/><line x1="395.5" y1="298.3" x2="395.5" y2="295.6"/><line x1="395.5" y1="0.15" x2="395.5" y2="2.85"/><line x1="418.5" y1="298.3" x2="418.5" y2="293.5"/><line x1="418.5" y1="0.15" x2="418.5" y2="4.95"/><line x1="441.5" y1="298.3" x2="441.5" y2="295.6"/><line x1="441.5" y1="0.15" x2="441.5" y2="2.85"/><line x1="464.5" y1="298.3" x2="464.5" y2="295.6"/><line x1="464.5" y1="0.15" x2="464.5" y2="2.85"/><line x1="488.5" y1="298.3" x2="488.5" y2="295.6"/><line x1="488.5" y1="0.15" x2="488.5" y2="2.85"/><line x1="511.5" y1="298.3" x2="511.5" y2="293.5"/><line x1="511.5" y1="0.15" x2="511.5" y2="4.95"/></g><g stroke="#b5b5b5"><line x1="40.2" y1="292.5" x2="45.0" y2="292.5"/><line x1="40.2" y1="277.5" x2="42.900000000000006" y2="277.5"/><line x1="40.2" y1="263.5" x2="42.900000000000006" y2="263.5"/><line x1="40.2" y1="249.5" x2="42.900000000000006" y2="249.5"/><line x1="40.2" y1="235.5" x2="45.0" y2="235.5"/><line x1="40.2" y1="220.5" x2="42.900000000000006" y2="220.5"/><line x1="40.2" y1="206.5" x2="42.900000000000006" y2="206.5"/><line x1="40.2" y1="192.5" x2="42.900000000000006" y2="192.5"/><line x1="40.2" y1="178.5" x2="45.0" y2="178.5"/><line x1="40.2" y1="163.5" x2="42.900000000000006" y2="163.5"/><line x1="40.2" y1="149.5" x2="42.900000000000006" y2="149.5"/><line x1="40.2" y1="135.5" x2="42.900000000000006" y2="135.5"/><line x1="40.2" y1="120.5" x2="45.0" y2="120.5"/><line x1="40.2" y1="106.5" x2="42.900000000000006" y2="106.5"/><line x1="40.2" y1="92.5" x2="42.900000000000006" y2="92.5"/><line x1="40.2" y1="78.5" x2="42.900000000000006" y2="78.5"/><line x1="40.2" y1="63.5" x2="45.0" y2="63.5"/><line x1="40.2" y1="49.5" x2="42.900000000000006" y2="49.5"/><line x1="40.2" y1="35.5" x2="42.900000000000006" y2="35.5"/><line x1="40.2" y1="20.5" x2="42.900000000000006" y2="20.5"/><line x1="40.2" y1="6.5" x2="45.0" y2="6.5"/></g><g stroke="#888888"><line x1="520.65" y1="292.5" x2="515.85" y2="292.5"/><line x1="520.65" y1="277.5" x2="517.9499999999999" y2="277.5"/><line x1="520.65" y1="263.5" x2="517.9499999999999" y2="263.5"/><line x1="520.65" y1="249.5" x2="517.9499999999999" y2="249.5"/><line x1="520.65" y1="235.5" x2="515.85" y2="235.5"/><line x1="520.65" y1="220.5" x2="517.9499999999999" y2="220.5"/><line x1="520.65" y1="206.5" x2="517.9499999999999" y2="206.5"/><line x1="520.65" y1="192.5" x2="517.9499999999999" y2="192.5"/><line x1="520.65" y1="178.5" x2="515.85" y2="178.5"/><line x1="520.65" y1="163.5" x2="517.9499999999999" y2="163.5"/><line x1="520.65" y1="149.5" x2="517.9499999999999" y2="149.5"/><line x1="520.65" y1="135.5" x2="517.9499999999999" y2="135.5"/><line x1="520.65" y1="120.5" x2="515.85" y2="120.5"/><line x1="520.65" y1="106.5" x2="517.9499999999999" y2="106.5"/><line x1="520.65" y1="92.5" x2="517.9499999999999" y2="92.5"/><line x1="520.65" y1="78.5" x2="517.9499999999999" y2="78.5"/><line x1="520.65" y1="63.5" x2="515.85" y2="63.5"/><line x1="520.65" y1="49.5" x2="517.9499999999999" y2="49.5"/><line x1="520.65" y1="35.5" x2="517.9499999999999" y2="35.5"/><line x1="520.65" y1="20.5" x2="517.9499999999999" y2="20.5"/><line x1="520.65" y1="6.5" x2="515.85" y2="6.5"/></g></g>
<g stroke="#808080" stroke-width="1" fill="none">
<rect x="40.2" y="0.15" width="480.45" height="298.15000000000003"/>
</g>
<g font-size="9.6px" fill="#000"><text x="49.60" y="310.4" text-anchor="middle">0.0</text><text x="37.1" y="295.55" text-anchor="end">0.0</text><text x="142.00" y="310.4" text-anchor="middle">0.2</text><text x="37.1" y="238.44" text-anchor="end">0.2</text><text x="234.40" y="310.4" text-anchor="middle">0.4</text><text x="37.1" y="181.33" text-anchor="end">0.4</text><text x="326.80" y="310.4" text-anchor="middle">0.6</text><text x="37.1" y="124.22" text-anchor="end">0.6</text><text x="419.20" y="310.4" text-anchor="middle">0.8</text><text x="37.1" y="67.11" text-anchor="end">0.8</text><text x="511.60" y="310.4" text-anchor="middle">1.0</text><text x="37.1" y="10.00" text-anchor="end">1.0</text></g>
<g font-size="17.3px" fill="#000"><text x="474.32" y="25.5">n</text><rect x="483.50" y="20.15" width="9.1" height="1.1"/><rect x="483.50" y="22.55" width="9.1" height="1.1"/><text x="493.37" y="25.5">0</text><text x="365.22" y="162.6">n</text><rect x="374.40" y="157.25" width="9.1" height="1.1"/><rect x="374.40" y="159.65" width="9.1" height="1.1"/><text x="383.77" y="162.6">1</text><text x="241.92" y="171.3">n</text><rect x="251.10" y="165.95" width="9.1" height="1.1"/><rect x="251.10" y="168.35" width="9.1" height="1.1"/><text x="260.97" y="171.3">2</text><text x="158.52" y="175.5">n</text><rect x="167.70" y="170.15" width="9.1" height="1.1"/><rect x="167.70" y="172.55" width="9.1" height="1.1"/><text x="177.57" y="175.5">3</text><text x="100.72" y="177.7">n</text><rect x="109.90" y="172.35" width="9.1" height="1.1"/><rect x="109.90" y="174.75" width="9.1" height="1.1"/><text x="119.27" y="177.7">4</text><text x="58.92" y="207">n</text><rect x="68.10" y="201.65" width="9.1" height="1.1"/><rect x="68.10" y="204.05" width="9.1" height="1.1"/><text x="77.97" y="207">5</text></g>
<g font-size="18px" fill="#000"><text x="267.55" y="332">r</text><line x1="274.6" y1="334.6" x2="280.6" y2="319.4" stroke="#000" stroke-width="1"/><text transform="translate(280.1,332) scale(1.07,1)">R</text></g>
<g fill="#000"><text transform="translate(13.80,181.28) rotate(-90) scale(1.15,1)" font-size="18px" font-style="italic">ρ</text><text transform="translate(16.80,171.90) rotate(-90)" font-size="13px" font-style="italic">n</text><text transform="translate(13.80,164.26) rotate(-90)" font-size="18px">(</text><text transform="translate(13.80,158.28) rotate(-90)" font-size="18px">r</text><text transform="translate(13.80,152.14) rotate(-90)" font-size="18px">)</text><text transform="translate(13.80,139.33) rotate(-90) scale(1.15,1)" font-size="18px" font-style="italic">ρ</text><text transform="translate(16.80,129.15) rotate(-90)" font-size="12.8px">n</text><text transform="translate(16.80,122.70) rotate(-90)" font-size="12.8px">c</text><line x1="17.0" y1="145.2" x2="1.4" y2="140.4" stroke="#000" stroke-width="0.9"/></g>
</svg>
</body></html>
